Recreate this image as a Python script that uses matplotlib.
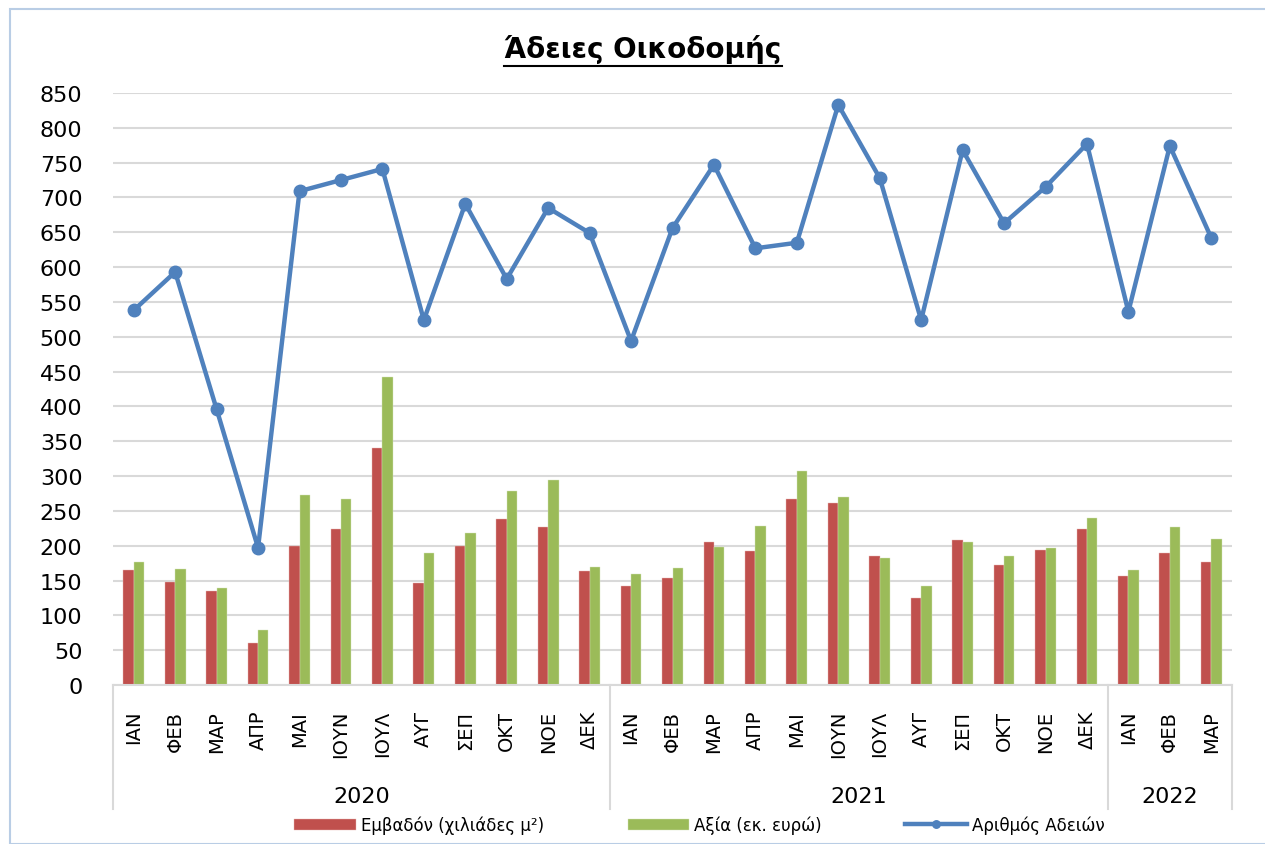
import matplotlib.pyplot as plt
import numpy as np
from matplotlib.lines import Line2D
from matplotlib.patches import Rectangle

# Data
months = ['ΙΑΝ', 'ΦΕΒ', 'ΜΑΡ', 'ΑΠΡ', 'ΜΑΙ', 'ΙΟΥΝ', 'ΙΟΥΛ', 'ΑΥΓ', 'ΣΕΠ', 'ΟΚΤ', 'ΝΟΕ', 'ΔΕΚ',
          'ΙΑΝ', 'ΦΕΒ', 'ΜΑΡ', 'ΑΠΡ', 'ΜΑΙ', 'ΙΟΥΝ', 'ΙΟΥΛ', 'ΑΥΓ', 'ΣΕΠ', 'ΟΚΤ', 'ΝΟΕ', 'ΔΕΚ',
          'ΙΑΝ', 'ΦΕΒ', 'ΜΑΡ']
years = ['2020', '2021', '2022']
year_counts = [12, 12, 3]

area = [165, 148, 135, 61, 199, 224, 340, 146, 199, 238, 227, 163,
        142, 153, 205, 192, 267, 262, 185, 125, 208, 172, 194, 224,
        157, 190, 176]
value = [177, 166, 139, 79, 273, 267, 442, 190, 218, 279, 294, 170,
         159, 168, 198, 229, 307, 270, 183, 142, 205, 185, 196, 240,
         165, 227, 209]
permits = [538, 593, 396, 197, 709, 725, 741, 524, 691, 583, 685, 649,
           494, 656, 747, 627, 635, 833, 728, 524, 768, 663, 715, 777,
           536, 774, 642]

W, H = 1265, 845
fig = plt.figure(figsize=(W / 100, H / 100), dpi=100)
fig.patch.set_facecolor('white')

# outer chart frame
fig.patches.append(Rectangle((10 / W, 0), 1.2, (H - 10) / H, transform=fig.transFigure,
                             fill=False, edgecolor='#B9CDE5', lw=1.5))

left, right, top, bottom = 113, 1232, 94, 686
ax = fig.add_axes([left / W, (H - bottom) / H, (right - left) / W, (bottom - top) / H])

x = np.arange(len(months))
bw = 0.25
b1 = ax.bar(x - bw / 2, area, width=bw, color='#C0504D', edgecolor='#E8B8B6', linewidth=0.3,
            label='Εμβαδόν (χιλιάδες μ²)', zorder=2)
b2 = ax.bar(x + bw / 2, value, width=bw, color='#9BBB59', edgecolor='#D6E4BD', linewidth=0.3,
            label='Αξία (εκ. ευρώ)', zorder=2)
ln, = ax.plot(x, permits, color='#4F81BD', lw=3.2, marker='o', markersize=9,
              label='Αριθμός Αδειών', zorder=3)

ax.set_xlim(-0.5, len(months) - 0.5)
ax.set_ylim(0, 850)
ax.set_yticks(np.arange(0, 851, 50))
ax.yaxis.grid(True, color='#D9D9D9', lw=1.5, zorder=0)
ax.set_axisbelow(True)
for s in ['top', 'right', 'left']:
    ax.spines[s].set_visible(False)
ax.spines['bottom'].set_color('#D9D9D9')
ax.spines['bottom'].set_linewidth(1.5)
ax.tick_params(axis='y', length=0, labelsize=16, pad=22)
ax.tick_params(axis='x', length=0, labelsize=14, pad=18)
ax.set_xticks(x)
ax.set_xticklabels(months, rotation=90, va='top', ha='center')

# year group labels and separators
trans = ax.get_xaxis_transform()
sep_bottom = -(810 - bottom) / (bottom - top)
start = 0
bounds = [-0.5]
for yr, n in zip(years, year_counts):
    mid = start + (n - 1) / 2
    ax.text(mid, -(797 - bottom) / (bottom - top), yr, transform=trans, ha='center',
            va='center', fontsize=16)
    start += n
    bounds.append(start - 0.5)
for b in bounds:
    ax.add_line(Line2D([b, b], [0, sep_bottom], transform=trans, color='#D9D9D9',
                       lw=1.5, clip_on=False))

# title with underline
t = fig.text(643 / W, 1 - 50 / H, 'Άδειες Οικοδομής', ha='center', va='center',
             fontsize=20, fontweight='bold')
fig.canvas.draw()
bb = t.get_window_extent()
uy = (bb.y0 - 2) / H
fig.add_artist(Line2D([bb.x0 / W, bb.x1 / W], [uy, uy], color='black', lw=1.5))

fig.legend(handles=[b1, b2, ln], loc='center', bbox_to_anchor=(0.553, 1 - 826 / H), ncol=3,
           frameon=False, fontsize=12, handlelength=3.7, columnspacing=5.0,
           handletextpad=0.3, markerscale=0.6)

fig.savefig('out.png', dpi=100)
